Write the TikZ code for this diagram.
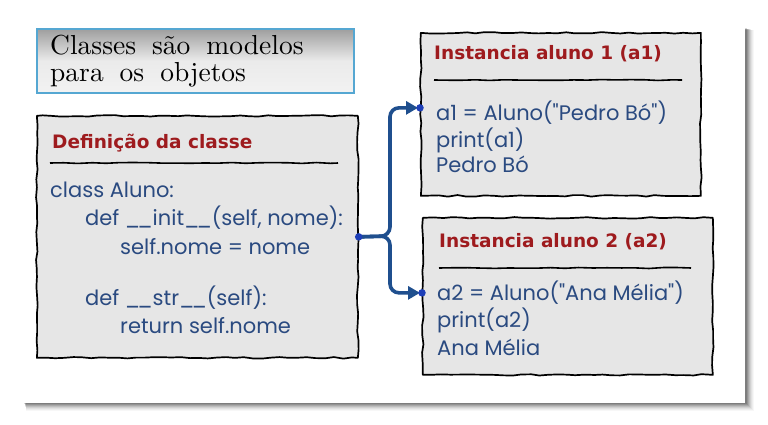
\documentclass[tikz,border=0pt]{standalone}
\usepackage{fontspec}
\newfontfamily\codefont{Poppins}
\newfontfamily\headfont{DejaVu Sans}
\newfontfamily\titlefont{lmroman10-regular}[Extension=.otf]
\usetikzlibrary{arrows.meta,decorations.pathmorphing,calc}
\definecolor{codeblue}{HTML}{2A4A80}
\definecolor{headred}{HTML}{9E1B1E}
\definecolor{connblue}{HTML}{1F4F8E}
\definecolor{dotblue}{HTML}{1E3FB8}
\definecolor{boxfill}{HTML}{E6E6E6}
\definecolor{titleborder}{HTML}{55A7D2}
\newcommand{\uu}{\_\kern-3pt\_}
\begin{document}
\begin{tikzpicture}[x=1pt,y=-1pt,
  sketchbox/.style={draw=black, line width=1.7pt, fill=boxfill, line join=round,
     decorate, decoration={random steps, segment length=9pt, amplitude=0.8pt},
     inner sep=0pt, anchor=north west},
  rulel/.style={draw=black, line width=1.6pt, decorate,
     decoration={random steps, segment length=14pt, amplitude=0.5pt}},
  hdr/.style={anchor=base west, inner sep=0pt, text=headred,
     font=\headfont\bfseries\fontsize{18.5}{20}\selectfont},
  code/.style={anchor=base west, inner sep=0pt, text=codeblue,
     font=\codefont\fontsize{21}{24}\selectfont},
  ttl/.style={anchor=base west, inner sep=0pt,
     font=\titlefont\fontsize{27.5}{28}\selectfont},
  conn/.style={draw=connblue, line width=3.6pt, rounded corners=9pt,
     -{Triangle[length=12pt,width=13pt]}, shorten >=2pt},
  dotc/.style={circle, fill=dotblue, inner sep=0pt, minimum size=7.5pt}
]
\pgfmathsetseed{7}
\useasboundingbox (0,0) rectangle (768,425);
% panel shadow
\foreach \i/\o in {8/0.03,7/0.04,6/0.05,5/0.07,4/0.09,3/0.11,2/0.13,1/0.15}{
  \fill[black, opacity=\o] (24+\i*0.3,28+\i*0.3) rectangle (746+\i,403+\i);
}
\fill[white] (16,16) rectangle (745,403);

% title box
\node[draw=titleborder, line width=1.6pt, anchor=north west, inner sep=0pt,
      minimum width=317pt, minimum height=64pt,
      top color=black!38, bottom color=white!95!black, middle color=black!8,
      shading angle=0] (title) at (36,28) {};
\node[ttl] (t1l) at (50,55) {\spaceskip=16pt Classes são modelos};
\node[ttl] (t2l) at (50,82) {\spaceskip=16pt para os objetos};

% class box
\node[sketchbox, minimum width=321pt, minimum height=242pt] (cls) at (36,115) {};
\node[hdr] (clsh) at (52,149) {Definição da classe};
\draw[rulel] (50,163) -- (338,163);
\node[code] (c1) at (50,197) {class Aluno:};
\node[code] (c2) at (85,225) {def \uu init\uu(self, nome):};
\node[code] (c3) at (120,254) {self.nome = nome};
\node[code] (c4) at (85,305) {def \uu str\uu(self):};
\node[code] (c5) at (120,333) {return self.nome};

% instance 1
\node[sketchbox, minimum width=280pt, minimum height=163pt] (a1) at (420,32) {};
\node[hdr] (a1h) at (434,60) {Instancia aluno 1 (a1)};
\draw[rulel] (434,80) -- (682,80);
\node[code] (a1l1) at (436,121) {a1 = Aluno("Pedro Bó")};
\node[code] (a1l2) at (436,147) {print(a1)};
\node[code] (a1l3) at (436,172) {Pedro Bó};

% instance 2
\node[sketchbox, minimum width=290pt, minimum height=157pt] (a2) at (422,217) {};
\node[hdr] (a2h) at (439,247) {Instancia aluno 2 (a2)};
\draw[rulel] (439,268) -- (691,268);
\node[code] (a2l1) at (437,300) {a2 = Aluno("Ana Mélia")};
\node[code] (a2l2) at (437,327) {print(a2)};
\node[code] (a2l3) at (437,355) {Ana Mélia};

% connectors
\coordinate (src) at (cls.east);
\coordinate (tg1) at ([yshift=6.5pt]a1.west);
\coordinate (tg2) at ([yshift=3.5pt]a2.west);
\coordinate (j) at (390,236);
\draw[conn] (src) -- (j) |- (tg1);
\draw[conn] (src) -- (j) |- (tg2);
\node[dotc] (d0) at (src) {};
\node[dotc] (d1) at (tg1) {};
\node[dotc] (d2) at (tg2) {};
\end{tikzpicture}
\end{document}
